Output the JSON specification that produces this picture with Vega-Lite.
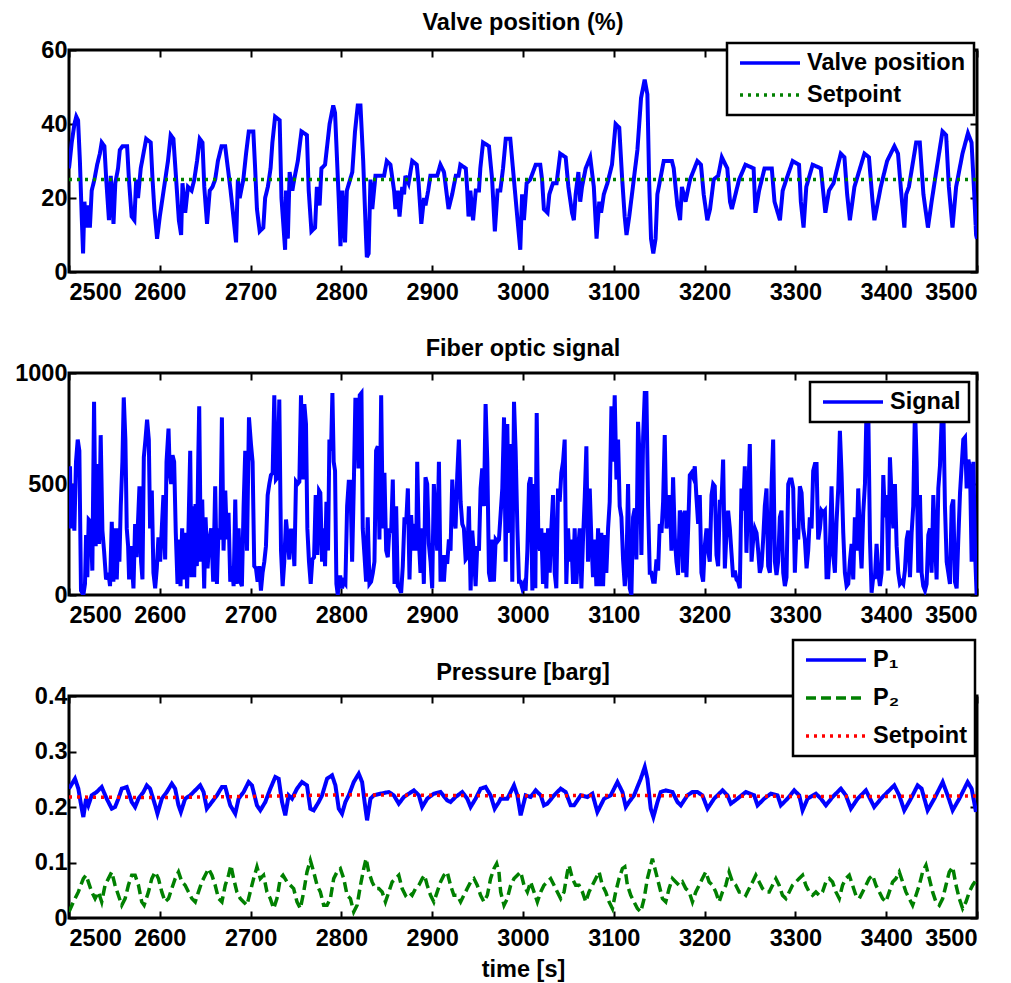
{
"$schema": "https://vega.github.io/schema/vega-lite/v6.json",
"background": "white",
"padding": {"left": 13, "top": 9, "right": 5, "bottom": 2},
"bounds": "flush",
"spacing": 101,
"config": {
  "font": "Liberation Sans",
  "view": {"stroke": "black", "strokeWidth": 3},
  "axis": {"labelFont": "Liberation Sans", "labelFontSize": 23.5, "labelFontWeight": "bold", "labelColor": "black", "domain": false, "ticks": true, "tickColor": "black", "tickWidth": 2, "tickSize": -7, "grid": false, "titleFont": "Liberation Sans", "titleFontSize": 23.5, "titleFontWeight": "bold", "titleColor": "black"},
  "axisX": {"labelPadding": 15},
  "axisY": {"labelPadding": 9},
  "title": {"font": "Liberation Sans", "fontSize": 23.5, "fontWeight": "bold", "color": "black", "offset": 11, "frame": "group", "anchor": "middle"},
  "legend": {"orient": "none", "fillColor": "white", "strokeColor": "black", "strokeWidth": 2.5, "padding": 8, "labelFont": "Liberation Sans", "labelFontSize": 23.5, "labelFontWeight": "bold", "labelColor": "black", "symbolType": "M-0.7,0H5.3", "symbolSize": 400, "symbolStrokeWidth": 3.5, "labelOffset": 48, "rowPadding": 8, "title": null}
},
"datasets": {
"valve": [
{"t":2500,"v":28},{"t":2503,"v":35},{"t":2506,"v":40},{"t":2508,"v":42},{"t":2510,"v":41},{"t":2512,"v":30},{"t":2514,"v":15},{"t":2515.5,"v":5},{"t":2517,"v":19},{"t":2519,"v":12},{"t":2521,"v":18},{"t":2523,"v":12},{"t":2525,"v":22},{"t":2528,"v":25},{"t":2531,"v":29},{"t":2534,"v":32},{"t":2536,"v":35},{"t":2539,"v":34},{"t":2541,"v":25},{"t":2544,"v":14},{"t":2546,"v":26},{"t":2549,"v":13},{"t":2551,"v":24},{"t":2554,"v":28},{"t":2556,"v":33},{"t":2559,"v":34},{"t":2564,"v":34},{"t":2566,"v":25},{"t":2569,"v":15},{"t":2572,"v":14},{"t":2574,"v":25},{"t":2576,"v":20},{"t":2579,"v":28},{"t":2582,"v":32},{"t":2585,"v":36},{"t":2590,"v":35},{"t":2592,"v":25},{"t":2594,"v":17},{"t":2597,"v":9},{"t":2600,"v":15},{"t":2603,"v":20},{"t":2606,"v":25},{"t":2609,"v":30},{"t":2612,"v":37},{"t":2615,"v":36},{"t":2618,"v":25},{"t":2621,"v":14},{"t":2623.5,"v":10},{"t":2625,"v":24},{"t":2628,"v":16},{"t":2631,"v":23},{"t":2635,"v":22},{"t":2638,"v":25},{"t":2641,"v":30},{"t":2644,"v":36},{"t":2647,"v":35},{"t":2649,"v":23},{"t":2652,"v":13},{"t":2655,"v":22},{"t":2658,"v":23},{"t":2661,"v":25},{"t":2664,"v":30},{"t":2668,"v":34},{"t":2672,"v":34},{"t":2678,"v":22},{"t":2684,"v":8},{"t":2686,"v":25},{"t":2688,"v":20},{"t":2692,"v":25},{"t":2695,"v":32},{"t":2698,"v":38},{"t":2703,"v":38},{"t":2705,"v":28},{"t":2707,"v":17},{"t":2710,"v":11},{"t":2714,"v":12},{"t":2716,"v":20},{"t":2719,"v":23},{"t":2722,"v":28},{"t":2724,"v":35},{"t":2727,"v":42},{"t":2732,"v":41},{"t":2734,"v":20},{"t":2738,"v":6},{"t":2739,"v":22},{"t":2741,"v":9},{"t":2743,"v":27},{"t":2746,"v":22},{"t":2748,"v":25},{"t":2752,"v":30},{"t":2756,"v":38},{"t":2762,"v":37},{"t":2764,"v":22},{"t":2767,"v":11},{"t":2771,"v":12},{"t":2773,"v":23},{"t":2776,"v":18},{"t":2778,"v":28},{"t":2782,"v":29},{"t":2787,"v":40},{"t":2791,"v":45},{"t":2793,"v":43},{"t":2797,"v":20},{"t":2799,"v":7},{"t":2801,"v":22},{"t":2804,"v":8},{"t":2806,"v":22},{"t":2812,"v":27},{"t":2815,"v":38},{"t":2818,"v":45},{"t":2821,"v":45},{"t":2824,"v":30},{"t":2827,"v":10},{"t":2828,"v":4},{"t":2830,"v":5},{"t":2832,"v":25},{"t":2834,"v":17},{"t":2837.5,"v":26},{"t":2847,"v":26},{"t":2850,"v":30},{"t":2854,"v":29},{"t":2858,"v":22},{"t":2859.5,"v":17},{"t":2862,"v":22},{"t":2864,"v":15},{"t":2867,"v":23},{"t":2869,"v":21},{"t":2870.5,"v":26},{"t":2874,"v":24},{"t":2878,"v":30},{"t":2883,"v":29},{"t":2885,"v":24},{"t":2888,"v":13},{"t":2891,"v":20},{"t":2892.6,"v":18},{"t":2895.6,"v":22},{"t":2898,"v":26},{"t":2905.5,"v":26},{"t":2909,"v":29},{"t":2913,"v":27},{"t":2916.5,"v":20},{"t":2918,"v":17},{"t":2922,"v":21},{"t":2926,"v":26},{"t":2929,"v":26},{"t":2931,"v":29},{"t":2937,"v":28},{"t":2938.6,"v":22},{"t":2940,"v":15},{"t":2942,"v":22},{"t":2945,"v":14},{"t":2948,"v":22},{"t":2951.5,"v":22},{"t":2953,"v":28},{"t":2956,"v":35},{"t":2962.5,"v":34},{"t":2966,"v":25},{"t":2969,"v":11},{"t":2972,"v":22},{"t":2975,"v":22},{"t":2978,"v":28},{"t":2981,"v":36},{"t":2986,"v":36},{"t":2990,"v":25},{"t":2994,"v":14},{"t":2997,"v":6},{"t":2999,"v":21},{"t":3001,"v":14},{"t":3004,"v":24},{"t":3008,"v":25},{"t":3014,"v":29},{"t":3019,"v":29},{"t":3021,"v":25},{"t":3023,"v":17},{"t":3027,"v":16},{"t":3029,"v":21},{"t":3033,"v":24},{"t":3037,"v":24},{"t":3041,"v":32},{"t":3047,"v":31},{"t":3050,"v":23},{"t":3054,"v":16},{"t":3056,"v":14},{"t":3058,"v":21},{"t":3061,"v":27},{"t":3063,"v":19},{"t":3065,"v":23},{"t":3069,"v":28},{"t":3074,"v":31},{"t":3078,"v":23},{"t":3081,"v":9},{"t":3084,"v":19},{"t":3086,"v":16},{"t":3089,"v":21},{"t":3093,"v":24},{"t":3098,"v":29},{"t":3102,"v":40},{"t":3106,"v":39},{"t":3109,"v":26},{"t":3112,"v":15},{"t":3114,"v":10},{"t":3117,"v":15},{"t":3120,"v":21},{"t":3126,"v":33},{"t":3130,"v":47},{"t":3134,"v":52},{"t":3137,"v":48},{"t":3139,"v":24},{"t":3141,"v":9},{"t":3143.5,"v":5},{"t":3146,"v":9},{"t":3148,"v":21},{"t":3155,"v":30},{"t":3164,"v":30},{"t":3166,"v":28},{"t":3170,"v":18},{"t":3173,"v":14},{"t":3175,"v":23},{"t":3179,"v":19},{"t":3184,"v":25},{"t":3192,"v":30},{"t":3196,"v":29},{"t":3199,"v":21},{"t":3203,"v":14},{"t":3206,"v":17},{"t":3210,"v":25},{"t":3215,"v":26},{"t":3219,"v":31},{"t":3225,"v":28},{"t":3228,"v":19},{"t":3230,"v":17},{"t":3234,"v":21},{"t":3238,"v":25},{"t":3245,"v":29},{"t":3254,"v":28},{"t":3256,"v":16},{"t":3260,"v":22},{"t":3266,"v":28},{"t":3274,"v":28},{"t":3277,"v":19},{"t":3283,"v":14},{"t":3286,"v":22},{"t":3290,"v":25},{"t":3297,"v":30},{"t":3304,"v":29},{"t":3306,"v":19},{"t":3309,"v":12},{"t":3312,"v":23},{"t":3319,"v":29},{"t":3328,"v":28},{"t":3333,"v":16},{"t":3337,"v":22},{"t":3342,"v":24},{"t":3350,"v":32},{"t":3354,"v":31},{"t":3357,"v":21},{"t":3360,"v":14},{"t":3365,"v":23},{"t":3376,"v":32},{"t":3381,"v":31},{"t":3385,"v":19},{"t":3387,"v":14},{"t":3394,"v":23},{"t":3401,"v":30},{"t":3409,"v":34},{"t":3413,"v":32},{"t":3416,"v":23},{"t":3420,"v":12},{"t":3422,"v":21},{"t":3425,"v":23},{"t":3433,"v":35},{"t":3437,"v":35},{"t":3441,"v":21},{"t":3446,"v":12},{"t":3450,"v":19},{"t":3455,"v":27},{"t":3462,"v":38},{"t":3466,"v":37},{"t":3469,"v":23},{"t":3473,"v":12},{"t":3477,"v":23},{"t":3484,"v":32},{"t":3490,"v":37.5},{"t":3494,"v":35},{"t":3497,"v":21},{"t":3499,"v":10},{"t":3500,"v":9}
],
"sp1": [{"t":2500,"v":25},{"t":3500,"v":25}],
"signal": [
{"t":2500,"v":400},{"t":2501.1,"v":580},{"t":2502.2,"v":300},{"t":2504.0,"v":500},{"t":2505.9,"v":290},{"t":2507.7,"v":600},{"t":2509.6,"v":700},{"t":2511.4,"v":650},{"t":2513.2,"v":20},{"t":2515.8,"v":0},{"t":2517.6,"v":50},{"t":2518.8,"v":270},{"t":2520.2,"v":80},{"t":2521.7,"v":340},{"t":2523.9,"v":330},{"t":2525.7,"v":110},{"t":2527.6,"v":870},{"t":2529.4,"v":220},{"t":2531.3,"v":590},{"t":2533.1,"v":230},{"t":2534.9,"v":720},{"t":2536.8,"v":290},{"t":2538.6,"v":200},{"t":2540.8,"v":70},{"t":2543.4,"v":100},{"t":2545.2,"v":40},{"t":2547.1,"v":330},{"t":2548.9,"v":60},{"t":2550.7,"v":300},{"t":2552.6,"v":70},{"t":2554.4,"v":300},{"t":2555.5,"v":150},{"t":2557.0,"v":400},{"t":2558.8,"v":600},{"t":2560.3,"v":890},{"t":2562.1,"v":700},{"t":2563.6,"v":300},{"t":2565.1,"v":220},{"t":2566.2,"v":70},{"t":2568.0,"v":220},{"t":2569.9,"v":100},{"t":2571.0,"v":30},{"t":2572.8,"v":320},{"t":2574.6,"v":170},{"t":2575.7,"v":300},{"t":2577.6,"v":490},{"t":2579.4,"v":150},{"t":2580.9,"v":70},{"t":2582.4,"v":620},{"t":2584.2,"v":700},{"t":2586.0,"v":790},{"t":2587.9,"v":700},{"t":2589.3,"v":300},{"t":2591.2,"v":470},{"t":2593.0,"v":100},{"t":2594.9,"v":30},{"t":2596.7,"v":120},{"t":2598.5,"v":260},{"t":2600.4,"v":150},{"t":2602.2,"v":300},{"t":2604.0,"v":450},{"t":2605.9,"v":160},{"t":2607.4,"v":600},{"t":2609.6,"v":750},{"t":2611.0,"v":550},{"t":2612.5,"v":500},{"t":2614.0,"v":630},{"t":2615.8,"v":600},{"t":2617.6,"v":280},{"t":2619.5,"v":50},{"t":2621.3,"v":250},{"t":2622.8,"v":40},{"t":2624.6,"v":300},{"t":2626.5,"v":70},{"t":2628.3,"v":280},{"t":2630.1,"v":30},{"t":2631.6,"v":300},{"t":2633.5,"v":650},{"t":2634.9,"v":80},{"t":2636.4,"v":400},{"t":2637.9,"v":80},{"t":2639.3,"v":410},{"t":2640.8,"v":130},{"t":2642.3,"v":600},{"t":2643.4,"v":850},{"t":2645.2,"v":150},{"t":2646.7,"v":430},{"t":2648.9,"v":30},{"t":2650.4,"v":350},{"t":2652.6,"v":120},{"t":2654.4,"v":240},{"t":2656.6,"v":300},{"t":2658.8,"v":60},{"t":2661.0,"v":490},{"t":2662.9,"v":50},{"t":2664.7,"v":300},{"t":2666.5,"v":250},{"t":2668.4,"v":800},{"t":2670.2,"v":200},{"t":2672.1,"v":470},{"t":2673.9,"v":250},{"t":2675.7,"v":370},{"t":2677.6,"v":60},{"t":2679.4,"v":130},{"t":2681.3,"v":40},{"t":2683.1,"v":430},{"t":2684.9,"v":50},{"t":2686.8,"v":300},{"t":2688.6,"v":60},{"t":2690.4,"v":40},{"t":2692.3,"v":400},{"t":2694.1,"v":650},{"t":2696.0,"v":200},{"t":2698.2,"v":800},{"t":2700.4,"v":680},{"t":2702.2,"v":600},{"t":2704.0,"v":130},{"t":2705.9,"v":120},{"t":2707.7,"v":60},{"t":2709.6,"v":130},{"t":2711.4,"v":20},{"t":2713.2,"v":100},{"t":2715.1,"v":150},{"t":2716.9,"v":220},{"t":2718.8,"v":450},{"t":2720.6,"v":500},{"t":2722.4,"v":540},{"t":2724.3,"v":550},{"t":2726.1,"v":900},{"t":2727.9,"v":520},{"t":2729.8,"v":530},{"t":2731.6,"v":880},{"t":2733.5,"v":200},{"t":2735.3,"v":40},{"t":2737.1,"v":150},{"t":2739.0,"v":340},{"t":2740.8,"v":260},{"t":2742.6,"v":160},{"t":2744.5,"v":290},{"t":2746.3,"v":290},{"t":2748.2,"v":130},{"t":2750.0,"v":510},{"t":2751.8,"v":500},{"t":2753.7,"v":510},{"t":2755.5,"v":900},{"t":2757.4,"v":520},{"t":2759.2,"v":860},{"t":2761.0,"v":770},{"t":2762.5,"v":300},{"t":2764.3,"v":150},{"t":2766.2,"v":50},{"t":2768.0,"v":160},{"t":2769.9,"v":170},{"t":2771.7,"v":450},{"t":2773.5,"v":180},{"t":2775.4,"v":470},{"t":2776.8,"v":460},{"t":2778.7,"v":150},{"t":2780.5,"v":300},{"t":2782.0,"v":130},{"t":2783.5,"v":420},{"t":2785.3,"v":200},{"t":2786.8,"v":700},{"t":2788.6,"v":650},{"t":2790.1,"v":910},{"t":2791.5,"v":600},{"t":2793.0,"v":560},{"t":2794.5,"v":50},{"t":2796.0,"v":0},{"t":2797.4,"v":80},{"t":2798.9,"v":80},{"t":2800.7,"v":30},{"t":2802.6,"v":60},{"t":2804.4,"v":50},{"t":2806.3,"v":400},{"t":2808.1,"v":510},{"t":2809.9,"v":510},{"t":2811.8,"v":150},{"t":2813.6,"v":480},{"t":2815.4,"v":880},{"t":2817.3,"v":880},{"t":2818.8,"v":570},{"t":2820.2,"v":900},{"t":2822.1,"v":910},{"t":2823.5,"v":300},{"t":2825.4,"v":180},{"t":2827.2,"v":60},{"t":2829.0,"v":350},{"t":2830.9,"v":50},{"t":2832.7,"v":60},{"t":2834.6,"v":100},{"t":2836.4,"v":150},{"t":2838.2,"v":650},{"t":2840.1,"v":670},{"t":2841.9,"v":250},{"t":2843.8,"v":900},{"t":2845.6,"v":300},{"t":2847.4,"v":550},{"t":2849.3,"v":200},{"t":2851.1,"v":170},{"t":2852.9,"v":300},{"t":2854.8,"v":280},{"t":2856.6,"v":520},{"t":2858.5,"v":50},{"t":2860.3,"v":400},{"t":2862.1,"v":40},{"t":2864.0,"v":30},{"t":2865.8,"v":10},{"t":2867.6,"v":130},{"t":2869.5,"v":350},{"t":2871.3,"v":320},{"t":2873.2,"v":480},{"t":2875.0,"v":70},{"t":2876.8,"v":360},{"t":2878.7,"v":200},{"t":2880.5,"v":320},{"t":2882.4,"v":200},{"t":2883.5,"v":600},{"t":2885.3,"v":250},{"t":2887.1,"v":100},{"t":2889.0,"v":300},{"t":2890.8,"v":50},{"t":2892.6,"v":530},{"t":2894.5,"v":500},{"t":2896.3,"v":230},{"t":2898.2,"v":150},{"t":2900.0,"v":30},{"t":2901.8,"v":500},{"t":2903.7,"v":350},{"t":2905.5,"v":200},{"t":2907.4,"v":600},{"t":2909.2,"v":60},{"t":2911.0,"v":180},{"t":2912.9,"v":60},{"t":2914.7,"v":180},{"t":2916.5,"v":140},{"t":2918.4,"v":250},{"t":2920.2,"v":200},{"t":2922.1,"v":520},{"t":2923.9,"v":350},{"t":2925.7,"v":300},{"t":2927.6,"v":540},{"t":2929.4,"v":700},{"t":2931.3,"v":420},{"t":2933.1,"v":320},{"t":2934.9,"v":300},{"t":2936.8,"v":160},{"t":2938.6,"v":170},{"t":2940.4,"v":400},{"t":2942.3,"v":20},{"t":2944.1,"v":290},{"t":2946.0,"v":180},{"t":2947.8,"v":40},{"t":2949.6,"v":220},{"t":2951.5,"v":200},{"t":2953.3,"v":480},{"t":2955.1,"v":570},{"t":2957.0,"v":400},{"t":2958.8,"v":860},{"t":2960.7,"v":600},{"t":2962.5,"v":100},{"t":2964.3,"v":60},{"t":2966.2,"v":250},{"t":2968.0,"v":60},{"t":2969.9,"v":250},{"t":2971.7,"v":240},{"t":2973.5,"v":250},{"t":2977.2,"v":480},{"t":2979.1,"v":800},{"t":2980.9,"v":150},{"t":2982.7,"v":770},{"t":2984.6,"v":280},{"t":2986.4,"v":680},{"t":2988.2,"v":60},{"t":2990.1,"v":870},{"t":2991.9,"v":650},{"t":2993.8,"v":300},{"t":2995.6,"v":60},{"t":2997.4,"v":60},{"t":2999.3,"v":30},{"t":3001.1,"v":50},{"t":3002.9,"v":20},{"t":3004.8,"v":200},{"t":3006.6,"v":500},{"t":3008.4,"v":530},{"t":3010.3,"v":20},{"t":3012.1,"v":500},{"t":3013.6,"v":30},{"t":3015.1,"v":820},{"t":3016.9,"v":250},{"t":3018.7,"v":200},{"t":3020.2,"v":300},{"t":3022.0,"v":50},{"t":3023.9,"v":280},{"t":3025.7,"v":30},{"t":3027.6,"v":300},{"t":3029.4,"v":100},{"t":3031.2,"v":300},{"t":3033.1,"v":450},{"t":3034.9,"v":100},{"t":3036.7,"v":30},{"t":3038.6,"v":480},{"t":3040.4,"v":420},{"t":3042.2,"v":550},{"t":3044.1,"v":600},{"t":3045.9,"v":700},{"t":3047.7,"v":50},{"t":3049.6,"v":300},{"t":3051.4,"v":150},{"t":3053.3,"v":250},{"t":3055.1,"v":50},{"t":3056.9,"v":300},{"t":3058.8,"v":50},{"t":3060.6,"v":200},{"t":3062.5,"v":300},{"t":3064.3,"v":30},{"t":3066.1,"v":250},{"t":3068.0,"v":440},{"t":3069.8,"v":670},{"t":3071.6,"v":150},{"t":3073.5,"v":480},{"t":3075.3,"v":250},{"t":3077.1,"v":80},{"t":3079.0,"v":250},{"t":3080.8,"v":40},{"t":3082.7,"v":300},{"t":3084.5,"v":40},{"t":3086.3,"v":280},{"t":3088.2,"v":40},{"t":3090.0,"v":270},{"t":3091.8,"v":100},{"t":3093.7,"v":300},{"t":3095.5,"v":420},{"t":3097.4,"v":850},{"t":3099.2,"v":600},{"t":3101.0,"v":900},{"t":3102.9,"v":520},{"t":3104.7,"v":700},{"t":3106.5,"v":400},{"t":3108.4,"v":350},{"t":3110.2,"v":160},{"t":3112.1,"v":40},{"t":3113.9,"v":130},{"t":3115.7,"v":500},{"t":3117.6,"v":30},{"t":3119.4,"v":0},{"t":3121.2,"v":350},{"t":3123.1,"v":390},{"t":3124.9,"v":160},{"t":3126.7,"v":780},{"t":3128.6,"v":600},{"t":3130.4,"v":180},{"t":3132.3,"v":710},{"t":3134.1,"v":910},{"t":3135.9,"v":910},{"t":3137.8,"v":400},{"t":3139.6,"v":100},{"t":3141.4,"v":100},{"t":3143.3,"v":60},{"t":3145.1,"v":60},{"t":3147.0,"v":160},{"t":3148.8,"v":110},{"t":3150.6,"v":320},{"t":3152.5,"v":280},{"t":3154.3,"v":420},{"t":3156.1,"v":720},{"t":3158.0,"v":300},{"t":3159.8,"v":360},{"t":3161.6,"v":450},{"t":3163.5,"v":200},{"t":3165.3,"v":530},{"t":3167.2,"v":260},{"t":3169.0,"v":150},{"t":3170.8,"v":90},{"t":3172.7,"v":380},{"t":3174.5,"v":360},{"t":3176.3,"v":100},{"t":3178.2,"v":380},{"t":3180.0,"v":80},{"t":3181.9,"v":300},{"t":3183.7,"v":540},{"t":3185.5,"v":550},{"t":3187.4,"v":530},{"t":3189.2,"v":580},{"t":3191.0,"v":440},{"t":3192.9,"v":320},{"t":3194.7,"v":450},{"t":3196.5,"v":100},{"t":3198.4,"v":60},{"t":3200.2,"v":220},{"t":3202.1,"v":300},{"t":3203.9,"v":200},{"t":3205.7,"v":150},{"t":3207.6,"v":450},{"t":3209.4,"v":500},{"t":3211.2,"v":490},{"t":3213.1,"v":180},{"t":3214.9,"v":130},{"t":3216.8,"v":420},{"t":3218.6,"v":420},{"t":3220.4,"v":610},{"t":3222.3,"v":120},{"t":3224.1,"v":280},{"t":3225.9,"v":380},{"t":3227.8,"v":300},{"t":3229.6,"v":190},{"t":3231.4,"v":80},{"t":3233.3,"v":110},{"t":3235.1,"v":70},{"t":3237.0,"v":60},{"t":3238.8,"v":30},{"t":3240.6,"v":480},{"t":3242.5,"v":380},{"t":3244.3,"v":580},{"t":3246.1,"v":190},{"t":3248.0,"v":450},{"t":3249.8,"v":680},{"t":3251.7,"v":150},{"t":3253.5,"v":250},{"t":3255.3,"v":300},{"t":3257.2,"v":280},{"t":3259.0,"v":200},{"t":3260.8,"v":100},{"t":3262.7,"v":130},{"t":3264.5,"v":250},{"t":3266.3,"v":400},{"t":3268.2,"v":480},{"t":3270.0,"v":130},{"t":3271.9,"v":100},{"t":3273.7,"v":490},{"t":3275.5,"v":700},{"t":3277.4,"v":150},{"t":3279.2,"v":90},{"t":3281.0,"v":150},{"t":3282.9,"v":350},{"t":3284.7,"v":380},{"t":3286.6,"v":100},{"t":3288.4,"v":40},{"t":3290.2,"v":80},{"t":3292.1,"v":500},{"t":3293.9,"v":520},{"t":3295.7,"v":520},{"t":3297.6,"v":480},{"t":3299.4,"v":100},{"t":3301.2,"v":300},{"t":3303.1,"v":250},{"t":3304.9,"v":490},{"t":3306.8,"v":460},{"t":3308.6,"v":300},{"t":3310.4,"v":250},{"t":3312.3,"v":120},{"t":3314.1,"v":200},{"t":3315.9,"v":350},{"t":3317.8,"v":300},{"t":3319.6,"v":560},{"t":3321.5,"v":590},{"t":3323.3,"v":590},{"t":3325.1,"v":250},{"t":3327.0,"v":300},{"t":3328.8,"v":380},{"t":3330.6,"v":370},{"t":3332.5,"v":380},{"t":3334.3,"v":80},{"t":3336.1,"v":80},{"t":3338.0,"v":230},{"t":3339.8,"v":490},{"t":3341.7,"v":180},{"t":3343.5,"v":100},{"t":3345.3,"v":330},{"t":3347.2,"v":480},{"t":3349.0,"v":740},{"t":3350.8,"v":550},{"t":3352.7,"v":280},{"t":3354.5,"v":100},{"t":3356.4,"v":40},{"t":3358.2,"v":50},{"t":3360.0,"v":150},{"t":3361.9,"v":230},{"t":3363.7,"v":70},{"t":3365.5,"v":350},{"t":3367.4,"v":200},{"t":3369.2,"v":480},{"t":3371.1,"v":250},{"t":3372.9,"v":120},{"t":3374.7,"v":370},{"t":3376.6,"v":500},{"t":3378.4,"v":850},{"t":3380.2,"v":850},{"t":3382.1,"v":250},{"t":3383.9,"v":10},{"t":3385.7,"v":80},{"t":3387.6,"v":80},{"t":3389.4,"v":230},{"t":3391.3,"v":100},{"t":3393.1,"v":40},{"t":3394.9,"v":100},{"t":3396.8,"v":540},{"t":3398.6,"v":350},{"t":3400.4,"v":450},{"t":3402.3,"v":110},{"t":3404.1,"v":620},{"t":3406.0,"v":440},{"t":3407.8,"v":300},{"t":3409.6,"v":500},{"t":3411.5,"v":220},{"t":3413.3,"v":100},{"t":3415.1,"v":50},{"t":3417.0,"v":60},{"t":3418.8,"v":50},{"t":3420.6,"v":110},{"t":3422.5,"v":250},{"t":3424.3,"v":290},{"t":3426.2,"v":80},{"t":3428.0,"v":280},{"t":3429.8,"v":400},{"t":3431.7,"v":850},{"t":3433.5,"v":600},{"t":3435.3,"v":100},{"t":3437.2,"v":450},{"t":3439.0,"v":100},{"t":3440.8,"v":40},{"t":3442.7,"v":20},{"t":3444.5,"v":50},{"t":3446.4,"v":270},{"t":3448.2,"v":300},{"t":3450.0,"v":100},{"t":3451.9,"v":450},{"t":3453.7,"v":250},{"t":3455.5,"v":70},{"t":3457.4,"v":480},{"t":3459.2,"v":580},{"t":3461.1,"v":790},{"t":3462.9,"v":850},{"t":3464.7,"v":400},{"t":3466.6,"v":150},{"t":3468.4,"v":100},{"t":3470.2,"v":50},{"t":3472.1,"v":400},{"t":3473.9,"v":430},{"t":3475.7,"v":60},{"t":3477.6,"v":30},{"t":3479.4,"v":250},{"t":3481.3,"v":460},{"t":3483.1,"v":580},{"t":3484.9,"v":700},{"t":3486.8,"v":710},{"t":3488.6,"v":480},{"t":3490.5,"v":610},{"t":3492.3,"v":570},{"t":3494.1,"v":150},{"t":3496.0,"v":600},{"t":3497.8,"v":200},{"t":3499.6,"v":0}
],
"p1": [
{"t":2500,"v":0.233},{"t":2506.6,"v":0.251},{"t":2510.3,"v":0.233},{"t":2514.0,"v":0.197},{"t":2515.8,"v":0.182},{"t":2518.8,"v":0.215},{"t":2521.3,"v":0.203},{"t":2525.0,"v":0.221},{"t":2530.5,"v":0.227},{"t":2536.0,"v":0.236},{"t":2541.5,"v":0.215},{"t":2547.1,"v":0.197},{"t":2550.7,"v":0.2},{"t":2554.4,"v":0.215},{"t":2558.1,"v":0.233},{"t":2563.6,"v":0.236},{"t":2569.1,"v":0.209},{"t":2572.8,"v":0.2},{"t":2576.5,"v":0.215},{"t":2582.0,"v":0.227},{"t":2585.7,"v":0.239},{"t":2589.3,"v":0.233},{"t":2594.9,"v":0.203},{"t":2597.4,"v":0.188},{"t":2602.2,"v":0.215},{"t":2607.7,"v":0.227},{"t":2613.2,"v":0.242},{"t":2616.9,"v":0.233},{"t":2620.6,"v":0.203},{"t":2623.2,"v":0.191},{"t":2627.9,"v":0.215},{"t":2633.5,"v":0.221},{"t":2640.8,"v":0.233},{"t":2644.5,"v":0.239},{"t":2648.2,"v":0.227},{"t":2651.8,"v":0.197},{"t":2657.4,"v":0.209},{"t":2662.9,"v":0.221},{"t":2668.4,"v":0.236},{"t":2672.1,"v":0.236},{"t":2677.6,"v":0.203},{"t":2683.1,"v":0.188},{"t":2686.8,"v":0.215},{"t":2692.3,"v":0.227},{"t":2697.8,"v":0.245},{"t":2701.5,"v":0.239},{"t":2707.0,"v":0.203},{"t":2710.7,"v":0.194},{"t":2716.2,"v":0.209},{"t":2721.7,"v":0.233},{"t":2727.2,"v":0.254},{"t":2730.9,"v":0.251},{"t":2734.6,"v":0.209},{"t":2738.2,"v":0.185},{"t":2741.9,"v":0.221},{"t":2745.6,"v":0.215},{"t":2751.1,"v":0.233},{"t":2756.6,"v":0.245},{"t":2762.1,"v":0.239},{"t":2765.8,"v":0.197},{"t":2769.5,"v":0.194},{"t":2775.0,"v":0.209},{"t":2778.7,"v":0.221},{"t":2784.2,"v":0.251},{"t":2789.7,"v":0.257},{"t":2793.4,"v":0.239},{"t":2797.1,"v":0.197},{"t":2800.7,"v":0.188},{"t":2804.4,"v":0.209},{"t":2808.1,"v":0.221},{"t":2813.6,"v":0.245},{"t":2819.1,"v":0.26},{"t":2822.8,"v":0.245},{"t":2826.5,"v":0.197},{"t":2828.3,"v":0.176},{"t":2832.0,"v":0.215},{"t":2835.7,"v":0.221},{"t":2843.0,"v":0.224},{"t":2852.2,"v":0.227},{"t":2857.7,"v":0.221},{"t":2863.2,"v":0.206},{"t":2868.8,"v":0.218},{"t":2874.3,"v":0.224},{"t":2879.8,"v":0.23},{"t":2885.3,"v":0.221},{"t":2889.0,"v":0.2},{"t":2894.5,"v":0.215},{"t":2901.8,"v":0.224},{"t":2909.2,"v":0.227},{"t":2916.5,"v":0.212},{"t":2920.2,"v":0.209},{"t":2925.7,"v":0.218},{"t":2933.1,"v":0.227},{"t":2938.6,"v":0.215},{"t":2942.3,"v":0.2},{"t":2947.8,"v":0.215},{"t":2953.3,"v":0.233},{"t":2958.8,"v":0.236},{"t":2964.3,"v":0.221},{"t":2968.8,"v":0.197},{"t":2973.5,"v":0.209},{"t":2975.4,"v":0.215},{"t":2982.7,"v":0.215},{"t":2990.1,"v":0.239},{"t":2993.8,"v":0.221},{"t":2997.4,"v":0.185},{"t":3002.9,"v":0.221},{"t":3008.4,"v":0.218},{"t":3014.0,"v":0.23},{"t":3019.5,"v":0.221},{"t":3023.1,"v":0.203},{"t":3026.8,"v":0.206},{"t":3034.2,"v":0.221},{"t":3041.5,"v":0.233},{"t":3047.0,"v":0.227},{"t":3052.5,"v":0.203},{"t":3056.2,"v":0.203},{"t":3063.6,"v":0.221},{"t":3070.9,"v":0.218},{"t":3076.4,"v":0.224},{"t":3081.9,"v":0.191},{"t":3089.3,"v":0.215},{"t":3096.6,"v":0.221},{"t":3104.0,"v":0.245},{"t":3109.5,"v":0.227},{"t":3113.2,"v":0.2},{"t":3116.8,"v":0.209},{"t":3122.3,"v":0.221},{"t":3129.7,"v":0.251},{"t":3134.1,"v":0.272},{"t":3137.0,"v":0.251},{"t":3140.7,"v":0.197},{"t":3143.6,"v":0.182},{"t":3148.1,"v":0.209},{"t":3151.7,"v":0.227},{"t":3157.2,"v":0.23},{"t":3164.6,"v":0.227},{"t":3170.1,"v":0.209},{"t":3173.8,"v":0.203},{"t":3181.1,"v":0.221},{"t":3186.6,"v":0.227},{"t":3192.1,"v":0.227},{"t":3197.6,"v":0.221},{"t":3203.2,"v":0.197},{"t":3210.5,"v":0.215},{"t":3219.7,"v":0.23},{"t":3225.2,"v":0.221},{"t":3228.9,"v":0.206},{"t":3236.2,"v":0.215},{"t":3245.4,"v":0.227},{"t":3254.6,"v":0.221},{"t":3258.3,"v":0.203},{"t":3265.6,"v":0.215},{"t":3273.0,"v":0.224},{"t":3280.3,"v":0.221},{"t":3284.0,"v":0.203},{"t":3291.3,"v":0.215},{"t":3298.7,"v":0.23},{"t":3304.2,"v":0.221},{"t":3307.9,"v":0.194},{"t":3313.4,"v":0.215},{"t":3322.6,"v":0.224},{"t":3328.1,"v":0.215},{"t":3333.6,"v":0.203},{"t":3340.9,"v":0.218},{"t":3350.1,"v":0.233},{"t":3355.6,"v":0.221},{"t":3361.1,"v":0.197},{"t":3368.5,"v":0.215},{"t":3377.7,"v":0.23},{"t":3381.3,"v":0.218},{"t":3386.8,"v":0.2},{"t":3394.2,"v":0.215},{"t":3401.5,"v":0.227},{"t":3408.9,"v":0.239},{"t":3414.4,"v":0.221},{"t":3419.9,"v":0.194},{"t":3427.2,"v":0.215},{"t":3434.6,"v":0.239},{"t":3439.0,"v":0.233},{"t":3445.6,"v":0.194},{"t":3453.0,"v":0.215},{"t":3462.2,"v":0.245},{"t":3467.7,"v":0.221},{"t":3473.2,"v":0.194},{"t":3480.5,"v":0.215},{"t":3489.7,"v":0.245},{"t":3494.1,"v":0.233},{"t":3498.9,"v":0.191}
],
"p2": [
{"t":2500,"v":0.011},{"t":2504.8,"v":0.029},{"t":2510.3,"v":0.047},{"t":2515.8,"v":0.071},{"t":2518.8,"v":0.077},{"t":2521.3,"v":0.065},{"t":2525.0,"v":0.047},{"t":2528.7,"v":0.035},{"t":2532.4,"v":0.047},{"t":2536.0,"v":0.029},{"t":2539.7,"v":0.059},{"t":2543.4,"v":0.071},{"t":2547.1,"v":0.083},{"t":2550.7,"v":0.059},{"t":2554.4,"v":0.041},{"t":2558.1,"v":0.023},{"t":2561.8,"v":0.035},{"t":2565.4,"v":0.059},{"t":2569.1,"v":0.077},{"t":2572.8,"v":0.077},{"t":2576.5,"v":0.059},{"t":2580.1,"v":0.029},{"t":2582.7,"v":0.023},{"t":2587.5,"v":0.047},{"t":2591.2,"v":0.071},{"t":2594.9,"v":0.083},{"t":2598.5,"v":0.071},{"t":2602.2,"v":0.047},{"t":2605.9,"v":0.029},{"t":2609.6,"v":0.035},{"t":2613.2,"v":0.053},{"t":2616.9,"v":0.071},{"t":2620.6,"v":0.083},{"t":2624.3,"v":0.065},{"t":2627.9,"v":0.059},{"t":2631.6,"v":0.047},{"t":2635.3,"v":0.035},{"t":2639.0,"v":0.029},{"t":2642.6,"v":0.047},{"t":2646.3,"v":0.065},{"t":2650.0,"v":0.077},{"t":2653.7,"v":0.089},{"t":2657.4,"v":0.077},{"t":2661.0,"v":0.059},{"t":2664.7,"v":0.035},{"t":2668.4,"v":0.029},{"t":2672.1,"v":0.059},{"t":2675.7,"v":0.077},{"t":2678.3,"v":0.095},{"t":2681.3,"v":0.071},{"t":2684.9,"v":0.047},{"t":2688.6,"v":0.035},{"t":2692.3,"v":0.029},{"t":2696.0,"v":0.023},{"t":2699.6,"v":0.047},{"t":2703.3,"v":0.071},{"t":2707.0,"v":0.092},{"t":2710.7,"v":0.071},{"t":2714.3,"v":0.077},{"t":2718.0,"v":0.047},{"t":2721.7,"v":0.035},{"t":2725.4,"v":0.017},{"t":2729.0,"v":0.035},{"t":2732.7,"v":0.071},{"t":2735.7,"v":0.077},{"t":2740.1,"v":0.065},{"t":2743.8,"v":0.059},{"t":2747.4,"v":0.053},{"t":2751.1,"v":0.029},{"t":2754.8,"v":0.017},{"t":2758.5,"v":0.047},{"t":2762.1,"v":0.083},{"t":2765.8,"v":0.104},{"t":2769.5,"v":0.083},{"t":2773.2,"v":0.059},{"t":2776.8,"v":0.047},{"t":2780.5,"v":0.023},{"t":2784.2,"v":0.023},{"t":2787.9,"v":0.035},{"t":2791.5,"v":0.071},{"t":2795.2,"v":0.083},{"t":2798.9,"v":0.089},{"t":2802.6,"v":0.071},{"t":2806.3,"v":0.041},{"t":2809.9,"v":0.035},{"t":2813.6,"v":0.011},{"t":2817.3,"v":0.023},{"t":2821.0,"v":0.059},{"t":2824.6,"v":0.089},{"t":2827.2,"v":0.107},{"t":2830.1,"v":0.083},{"t":2833.8,"v":0.065},{"t":2837.5,"v":0.053},{"t":2841.2,"v":0.053},{"t":2844.9,"v":0.047},{"t":2848.5,"v":0.029},{"t":2852.2,"v":0.047},{"t":2855.9,"v":0.065},{"t":2859.6,"v":0.071},{"t":2863.2,"v":0.077},{"t":2866.9,"v":0.053},{"t":2870.6,"v":0.041},{"t":2874.3,"v":0.047},{"t":2877.9,"v":0.041},{"t":2881.6,"v":0.053},{"t":2885.3,"v":0.059},{"t":2889.0,"v":0.071},{"t":2891.5,"v":0.077},{"t":2894.5,"v":0.059},{"t":2898.2,"v":0.041},{"t":2901.8,"v":0.029},{"t":2905.5,"v":0.047},{"t":2909.2,"v":0.065},{"t":2912.9,"v":0.077},{"t":2916.5,"v":0.083},{"t":2920.2,"v":0.059},{"t":2923.9,"v":0.041},{"t":2927.6,"v":0.041},{"t":2931.3,"v":0.029},{"t":2934.9,"v":0.041},{"t":2938.6,"v":0.053},{"t":2942.3,"v":0.065},{"t":2946.0,"v":0.071},{"t":2949.6,"v":0.059},{"t":2953.3,"v":0.041},{"t":2957.0,"v":0.029},{"t":2960.7,"v":0.041},{"t":2964.3,"v":0.071},{"t":2968.0,"v":0.089},{"t":2971.0,"v":0.098},{"t":2973.5,"v":0.083},{"t":2975.4,"v":0.047},{"t":2979.1,"v":0.023},{"t":2982.7,"v":0.035},{"t":2986.4,"v":0.059},{"t":2990.1,"v":0.071},{"t":2993.8,"v":0.077},{"t":2997.4,"v":0.083},{"t":3001.1,"v":0.059},{"t":3004.8,"v":0.047},{"t":3008.4,"v":0.065},{"t":3012.1,"v":0.047},{"t":3015.8,"v":0.029},{"t":3019.5,"v":0.047},{"t":3023.1,"v":0.059},{"t":3026.8,"v":0.065},{"t":3030.5,"v":0.071},{"t":3034.2,"v":0.059},{"t":3037.8,"v":0.047},{"t":3041.5,"v":0.035},{"t":3045.2,"v":0.047},{"t":3048.9,"v":0.083},{"t":3050.7,"v":0.095},{"t":3054.4,"v":0.071},{"t":3058.0,"v":0.059},{"t":3061.7,"v":0.059},{"t":3065.4,"v":0.047},{"t":3069.1,"v":0.029},{"t":3072.7,"v":0.047},{"t":3076.4,"v":0.059},{"t":3080.1,"v":0.071},{"t":3083.8,"v":0.083},{"t":3087.4,"v":0.059},{"t":3091.1,"v":0.047},{"t":3094.8,"v":0.029},{"t":3098.5,"v":0.017},{"t":3102.1,"v":0.047},{"t":3105.8,"v":0.071},{"t":3109.5,"v":0.089},{"t":3112.1,"v":0.092},{"t":3115.0,"v":0.059},{"t":3118.7,"v":0.041},{"t":3122.3,"v":0.029},{"t":3126.0,"v":0.017},{"t":3129.7,"v":0.011},{"t":3133.4,"v":0.035},{"t":3137.0,"v":0.071},{"t":3140.7,"v":0.095},{"t":3142.5,"v":0.107},{"t":3146.2,"v":0.083},{"t":3149.9,"v":0.059},{"t":3153.6,"v":0.035},{"t":3157.2,"v":0.029},{"t":3160.9,"v":0.053},{"t":3164.6,"v":0.071},{"t":3168.3,"v":0.065},{"t":3171.9,"v":0.059},{"t":3175.6,"v":0.065},{"t":3179.3,"v":0.053},{"t":3183.0,"v":0.047},{"t":3186.6,"v":0.029},{"t":3190.3,"v":0.047},{"t":3194.0,"v":0.059},{"t":3197.6,"v":0.071},{"t":3201.3,"v":0.083},{"t":3205.0,"v":0.065},{"t":3208.7,"v":0.059},{"t":3212.3,"v":0.047},{"t":3216.0,"v":0.029},{"t":3219.7,"v":0.047},{"t":3223.4,"v":0.059},{"t":3227.0,"v":0.083},{"t":3230.7,"v":0.065},{"t":3234.4,"v":0.059},{"t":3238.1,"v":0.047},{"t":3241.7,"v":0.047},{"t":3245.4,"v":0.041},{"t":3249.1,"v":0.053},{"t":3252.8,"v":0.065},{"t":3256.4,"v":0.077},{"t":3260.1,"v":0.065},{"t":3263.8,"v":0.053},{"t":3267.5,"v":0.047},{"t":3271.1,"v":0.047},{"t":3274.8,"v":0.059},{"t":3278.5,"v":0.071},{"t":3282.1,"v":0.059},{"t":3285.8,"v":0.041},{"t":3289.5,"v":0.035},{"t":3293.2,"v":0.047},{"t":3296.8,"v":0.059},{"t":3300.5,"v":0.065},{"t":3304.2,"v":0.071},{"t":3307.9,"v":0.077},{"t":3311.5,"v":0.059},{"t":3315.2,"v":0.047},{"t":3318.9,"v":0.041},{"t":3322.6,"v":0.047},{"t":3326.2,"v":0.041},{"t":3329.9,"v":0.047},{"t":3333.6,"v":0.065},{"t":3337.3,"v":0.071},{"t":3340.9,"v":0.065},{"t":3344.6,"v":0.047},{"t":3348.3,"v":0.035},{"t":3351.9,"v":0.059},{"t":3355.6,"v":0.071},{"t":3359.3,"v":0.077},{"t":3363.0,"v":0.059},{"t":3366.6,"v":0.041},{"t":3370.3,"v":0.035},{"t":3374.0,"v":0.047},{"t":3377.7,"v":0.059},{"t":3381.3,"v":0.071},{"t":3385.0,"v":0.077},{"t":3388.7,"v":0.059},{"t":3392.4,"v":0.047},{"t":3396.0,"v":0.035},{"t":3399.7,"v":0.029},{"t":3403.4,"v":0.047},{"t":3407.1,"v":0.065},{"t":3410.7,"v":0.071},{"t":3414.4,"v":0.083},{"t":3418.1,"v":0.065},{"t":3421.7,"v":0.047},{"t":3425.4,"v":0.035},{"t":3429.1,"v":0.023},{"t":3432.8,"v":0.041},{"t":3436.4,"v":0.059},{"t":3440.1,"v":0.083},{"t":3443.8,"v":0.095},{"t":3447.5,"v":0.071},{"t":3451.1,"v":0.047},{"t":3454.8,"v":0.029},{"t":3458.5,"v":0.023},{"t":3462.2,"v":0.035},{"t":3465.8,"v":0.059},{"t":3469.5,"v":0.083},{"t":3473.2,"v":0.092},{"t":3476.9,"v":0.059},{"t":3480.5,"v":0.035},{"t":3484.2,"v":0.017},{"t":3487.9,"v":0.029},{"t":3491.5,"v":0.047},{"t":3495.2,"v":0.059},{"t":3498.9,"v":0.068}
],
"sp3": [{"t":2500,"v":0.218},{"t":2600,"v":0.217},{"t":2700,"v":0.219},{"t":2800,"v":0.222},{"t":2900,"v":0.221},{"t":3000,"v":0.22},{"t":3100,"v":0.221},{"t":3200,"v":0.22},{"t":3300,"v":0.219},{"t":3400,"v":0.219},{"t":3500,"v":0.22}]
},
"vconcat": [
{
  "title": {"text": "Valve position (%)", "offset": 4},
  "width": 908, "height": 222,
  "layer": [
    {"data": {"name": "valve"}, "mark": {"type": "line", "strokeWidth": 4, "clip": true},
     "encoding": {
       "x": {"field": "t", "type": "quantitative", "scale": {"domain": [2500, 3500], "nice": false}, "axis": {"values": [2500,2600,2700,2800,2900,3000,3100,3200,3300,3400,3500], "format": "d", "title": null, "orient": "bottom"}},
       "y": {"field": "v", "type": "quantitative", "scale": {"domain": [0, 60], "nice": false}, "axis": {"values": [0,20,40,60], "title": null, "orient": "left"}},
       "color": {"datum": "Valve position", "type": "nominal", "scale": {"domain": ["Valve position", "Setpoint"], "range": ["#0000ff", "#008000"]}, "legend": {"legendX": 658, "legendY": -7}},
       "strokeDash": {"datum": "Valve position", "type": "nominal", "scale": {"domain": ["Valve position", "Setpoint"], "range": [[1, 0], [3, 5]]}, "legend": {"legendX": 658, "legendY": -7}}
     }},
    {"data": {"name": "sp1"}, "mark": {"type": "line", "strokeWidth": 3.5, "clip": true},
     "encoding": {
       "x": {"field": "t", "type": "quantitative", "axis": null},
       "y": {"field": "v", "type": "quantitative", "axis": null},
       "color": {"datum": "Setpoint", "type": "nominal"},
       "strokeDash": {"datum": "Setpoint", "type": "nominal"}
     }},
    {"data": {"name": "sp1"}, "mark": {"type": "line", "opacity": 0},
     "encoding": {
       "x": {"field": "t", "type": "quantitative", "axis": {"orient": "top", "labels": false, "values": [2500,2600,2700,2800,2900,3000,3100,3200,3300,3400,3500], "title": null}},
       "y": {"field": "v", "type": "quantitative", "axis": {"orient": "right", "labels": false, "values": [0,20,40,60], "title": null}}
     }}
  ],
  "resolve": {"axis": {"x": "independent", "y": "independent"}}
},
{
  "title": {"text": "Fiber optic signal", "offset": 1},
  "width": 908, "height": 222,
  "layer": [
    {"data": {"name": "signal"}, "mark": {"type": "line", "strokeWidth": 4, "clip": true},
     "encoding": {
       "x": {"field": "t", "type": "quantitative", "scale": {"domain": [2500, 3500], "nice": false}, "axis": {"values": [2500,2600,2700,2800,2900,3000,3100,3200,3300,3400,3500], "format": "d", "title": null, "orient": "bottom"}},
       "y": {"field": "v", "type": "quantitative", "scale": {"domain": [0, 1000], "nice": false}, "axis": {"values": [0,500,1000], "format": "d", "title": null, "orient": "left"}},
       "color": {"datum": "Signal", "type": "nominal", "scale": {"domain": ["Signal"], "range": ["#0000ff"]}, "legend": {"legendX": 741, "legendY": 9}}
     }},
    {"data": {"name": "sp1"}, "mark": {"type": "line", "opacity": 0},
     "encoding": {
       "x": {"field": "t", "type": "quantitative", "axis": {"orient": "top", "labels": false, "values": [2500,2600,2700,2800,2900,3000,3100,3200,3300,3400,3500], "title": null}},
       "y": {"datum": 500, "type": "quantitative", "axis": {"orient": "right", "labels": false, "values": [0,500,1000], "title": null}}
     }}
  ],
  "resolve": {"axis": {"x": "independent", "y": "independent"}}
},
{
  "title": {"text": "Pressure [barg]", "offset": -46},
  "width": 908, "height": 222,
  "layer": [
    {"data": {"name": "p1"}, "mark": {"type": "line", "strokeWidth": 4, "clip": true},
     "encoding": {
       "x": {"field": "t", "type": "quantitative", "scale": {"domain": [2500, 3500], "nice": false}, "axis": {"values": [2500,2600,2700,2800,2900,3000,3100,3200,3300,3400,3500], "format": "d", "title": "time [s]", "orient": "bottom", "titlePadding": 8}},
       "y": {"field": "v", "type": "quantitative", "scale": {"domain": [0, 0.4], "nice": false}, "axis": {"values": [0,0.1,0.2,0.3,0.4], "format": "~g", "title": null, "orient": "left"}},
       "color": {"datum": "P₁", "type": "nominal", "scale": {"domain": ["P₁", "P₂", "Setpoint"], "range": ["#0000ff", "#008000", "#ff0000"]}, "legend": {"legendX": 724, "legendY": -56, "rowPadding": 14}},
       "strokeDash": {"datum": "P₁", "type": "nominal", "scale": {"domain": ["P₁", "P₂", "Setpoint"], "range": [[1, 0], [10, 5], [3, 5]]}, "legend": {"legendX": 724, "legendY": -56, "rowPadding": 14}}
     }},
    {"data": {"name": "p2"}, "mark": {"type": "line", "strokeWidth": 3.5, "clip": true},
     "encoding": {
       "x": {"field": "t", "type": "quantitative", "axis": null},
       "y": {"field": "v", "type": "quantitative", "axis": null},
       "color": {"datum": "P₂", "type": "nominal"},
       "strokeDash": {"datum": "P₂", "type": "nominal"}
     }},
    {"data": {"name": "sp3"}, "mark": {"type": "line", "strokeWidth": 3.5, "clip": true},
     "encoding": {
       "x": {"field": "t", "type": "quantitative", "axis": null},
       "y": {"field": "v", "type": "quantitative", "axis": null},
       "color": {"datum": "Setpoint", "type": "nominal"},
       "strokeDash": {"datum": "Setpoint", "type": "nominal"}
     }},
    {"data": {"name": "sp3"}, "mark": {"type": "line", "opacity": 0},
     "encoding": {
       "x": {"field": "t", "type": "quantitative", "axis": {"orient": "top", "labels": false, "values": [2500,2600,2700,2800,2900,3000,3100,3200,3300,3400,3500], "title": null}},
       "y": {"field": "v", "type": "quantitative", "axis": {"orient": "right", "labels": false, "values": [0,0.1,0.2,0.3,0.4], "title": null}}
     }}
  ],
  "resolve": {"axis": {"x": "independent", "y": "independent"}}
}
],
"resolve": {"scale": {"color": "independent", "strokeDash": "independent"}, "legend": {"color": "independent", "strokeDash": "independent"}}
}
